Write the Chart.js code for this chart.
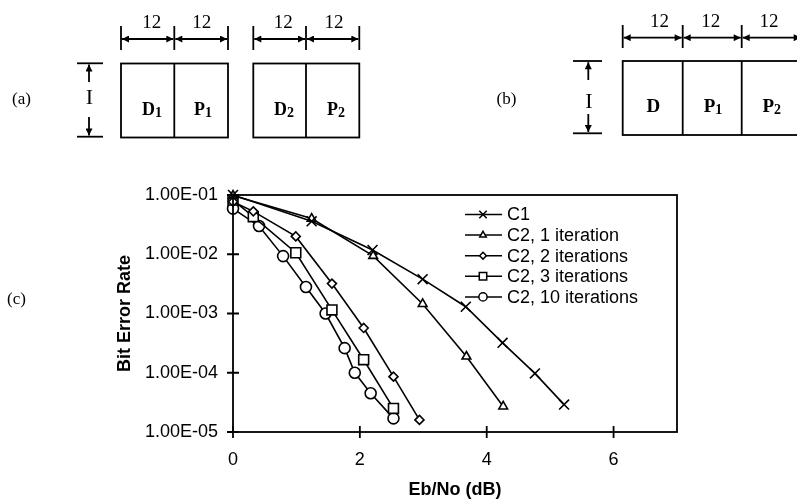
<!DOCTYPE html>
<html>
<head>
<meta charset="utf-8">
<title>Bit Error Rate</title>
<script src="https://cdn.jsdelivr.net/npm/chart.js@4.4.1/dist/chart.umd.min.js"></script>
<style>
    body { margin: 0; background: #fff; }
    #wrap { position: relative; width: 797px; height: 502px; overflow: hidden; }
    #berChart { position: absolute; left: 0; top: 0; }
    #frames { position: absolute; left: 0; top: 0; }
    #frames text { font-family: "Liberation Serif", "Times New Roman", serif; fill: #000; }
    #labelC { position: absolute; left: 7px; top: 289px; font: 17px "Liberation Serif", "Times New Roman", serif; }
</style>
</head>
<body>
<div id="wrap">
<canvas id="berChart" width="797" height="502"></canvas>

<!-- frame layouts (a) and (b) -->
<svg id="frames" width="797" height="160" viewBox="0 0 797 160">
    <defs>
        <marker id="ah" viewBox="0 0 10 10" refX="10" refY="5" markerWidth="9" markerHeight="7"
                markerUnits="userSpaceOnUse" orient="auto-start-reverse">
            <path d="M0,0 L10,5 L0,10 z" fill="#000"/>
        </marker>
    </defs>
    <g stroke="#000" stroke-width="1.8" fill="none">
        <!-- (a) dimension lines -->
        <line x1="121" y1="26" x2="121" y2="50"/>
        <line x1="174.3" y1="26" x2="174.3" y2="50"/>
        <line x1="228" y1="26" x2="228" y2="50"/>
        <line x1="122" y1="39" x2="173.3" y2="39" marker-start="url(#ah)" marker-end="url(#ah)"/>
        <line x1="175.3" y1="39" x2="227" y2="39" marker-start="url(#ah)" marker-end="url(#ah)"/>
        <line x1="253.3" y1="26" x2="253.3" y2="50"/>
        <line x1="306" y1="26" x2="306" y2="50"/>
        <line x1="359.3" y1="26" x2="359.3" y2="50"/>
        <line x1="254.3" y1="39" x2="305" y2="39" marker-start="url(#ah)" marker-end="url(#ah)"/>
        <line x1="307" y1="39" x2="358.3" y2="39" marker-start="url(#ah)" marker-end="url(#ah)"/>
        <!-- (a) height I -->
        <line x1="77" y1="63.3" x2="103" y2="63.3"/>
        <line x1="77" y1="136.7" x2="103" y2="136.7"/>
        <line x1="89" y1="82" x2="89" y2="64.5" marker-end="url(#ah)"/>
        <line x1="89" y1="117" x2="89" y2="135.5" marker-end="url(#ah)"/>
        <!-- (a) boxes -->
        <rect x="121" y="63.5" width="107" height="74"/>
        <line x1="174.3" y1="63.5" x2="174.3" y2="137.5"/>
        <rect x="253.3" y="63.5" width="106" height="74"/>
        <line x1="306" y1="63.5" x2="306" y2="137.5"/>

        <!-- (b) dimension lines -->
        <line x1="622.7" y1="25" x2="622.7" y2="48"/>
        <line x1="682.7" y1="25" x2="682.7" y2="48"/>
        <line x1="741.7" y1="25" x2="741.7" y2="48"/>
        <line x1="623.7" y1="37.7" x2="681.7" y2="37.7" marker-start="url(#ah)" marker-end="url(#ah)"/>
        <line x1="683.7" y1="37.7" x2="740.7" y2="37.7" marker-start="url(#ah)" marker-end="url(#ah)"/>
        <line x1="742.7" y1="37.7" x2="800.7" y2="37.7" marker-start="url(#ah)" marker-end="url(#ah)"/>
        <!-- (b) height I -->
        <line x1="573" y1="61" x2="602" y2="61"/>
        <line x1="573" y1="133.3" x2="602" y2="133.3"/>
        <line x1="588.3" y1="80" x2="588.3" y2="62.2" marker-end="url(#ah)"/>
        <line x1="588.3" y1="114" x2="588.3" y2="132.1" marker-end="url(#ah)"/>
        <!-- (b) box -->
        <rect x="622.7" y="61" width="179" height="74"/>
        <line x1="682.7" y1="61" x2="682.7" y2="135"/>
        <line x1="741.7" y1="61" x2="741.7" y2="135"/>
    </g>
    <g font-size="19" text-anchor="middle">
        <text x="151.7" y="28.3">12</text>
        <text x="201.7" y="28.3">12</text>
        <text x="283.3" y="28.3">12</text>
        <text x="334" y="28.3">12</text>
        <text x="659.5" y="27">12</text>
        <text x="710.8" y="27">12</text>
        <text x="769" y="27">12</text>
        <text x="21.5" y="104" font-size="17">(a)</text>
        <text x="506.5" y="104" font-size="17">(b)</text>
        <text x="89.5" y="104" font-size="22">I</text>
        <text x="588.8" y="108" font-size="22">I</text>
    </g>
    <g font-size="18" font-weight="bold" text-anchor="middle">
        <text x="152" y="115">D<tspan font-size="14" dy="2">1</tspan></text>
        <text x="203" y="115">P<tspan font-size="14" dy="2">1</tspan></text>
        <text x="284" y="115">D<tspan font-size="14" dy="2">2</tspan></text>
        <text x="336" y="115">P<tspan font-size="14" dy="2">2</tspan></text>
        <text x="653.3" y="111.5" font-size="19">D</text>
        <text x="713" y="111.5" font-size="19">P<tspan font-size="14" dy="2">1</tspan></text>
        <text x="771.7" y="111.5" font-size="19">P<tspan font-size="14" dy="2">2</tspan></text>
    </g>
</svg>
<div id="labelC">(c)</div>
</div>

<script>
var xTicks = [0, 2, 4, 6];
var yTicks = [1e-5, 1e-4, 1e-3, 1e-2, 1e-1];
var yTickLabels = ['1.00E-05', '1.00E-04', '1.00E-03', '1.00E-02', '1.00E-01'];

var c1Eb = [0, 1.24, 2.2, 2.99, 3.67, 4.25, 4.76, 5.22];
var c1Ber = [0.1, 0.036, 0.0118, 0.0038, 0.0013, 0.00032, 0.0000975, 0.000029];

var it1Eb = [0, 1.24, 2.21, 2.99, 3.68, 4.26];
var it1Ber = [0.098, 0.04, 0.0094, 0.00145, 0.000188, 0.000027];

var it2Eb = [0, 0.32, 0.99, 1.56, 2.06, 2.53, 2.94];
var it2Ber = [0.077, 0.053, 0.02, 0.0032, 0.00057, 0.000086, 0.000016];

var it3Eb = [0, 0.32, 0.99, 1.56, 2.06, 2.53];
var it3Ber = [0.082, 0.043, 0.0106, 0.00115, 0.000166, 0.000025];

var it10Eb = [0, 0.41, 0.79, 1.15, 1.46, 1.76, 1.92, 2.17, 2.53];
var it10Ber = [0.059, 0.03, 0.0093, 0.0028, 0.001, 0.00026, 0.0001, 0.000045, 0.000017];

var FONT = '"Liberation Sans", Arial, sans-serif';

function toPoints(xs, ys){
    var pts = [];
    for(var i = 0; i < xs.length; i++){
        pts.push({x: xs[i], y: ys[i]});
    }
    return pts;
}

function series(label, xs, ys, style, radius){
    return {
        label: label,
        data: toPoints(xs, ys),
        pointStyle: style,
        pointRadius: radius,
        pointHoverRadius: radius,
        pointBorderWidth: 1.6,
        pointBackgroundColor: '#fff',
        pointBorderColor: '#000',
        borderColor: '#000',
        borderWidth: 1.6,
        tension: 0,
        clip: false
    };
}

// box round the plot, ticks that cross the axes, and the legend inside the plot
var framePlugin = {
    id: 'framePlugin',
    afterDraw: function(chart){
        var ctx = chart.ctx;
        var a = chart.chartArea;
        var xs = chart.scales.x, ys = chart.scales.y;
        ctx.save();
        ctx.strokeStyle = '#000';
        ctx.lineWidth = 1.8;
        ctx.strokeRect(a.left, a.top, a.right - a.left, a.bottom - a.top);
        ctx.beginPath();
        xTicks.forEach(function(v){
            var px = xs.getPixelForValue(v);
            ctx.moveTo(px, a.bottom - 6);
            ctx.lineTo(px, a.bottom + 6);
        });
        yTicks.forEach(function(v){
            var py = ys.getPixelForValue(v);
            ctx.moveTo(a.left - 6, py);
            ctx.lineTo(a.left + 6, py);
        });
        ctx.stroke();

        ctx.font = '18px ' + FONT;
        ctx.textBaseline = 'middle';
        ctx.lineWidth = 1.5;
        chart.data.datasets.forEach(function(ds, i){
            var y = 214.5 + i * 20.6;
            ctx.strokeStyle = '#000';
            ctx.beginPath();
            ctx.moveTo(465, y);
            ctx.lineTo(502, y);
            ctx.stroke();
            ctx.fillStyle = '#fff';
            Chart.helpers.drawPoint(ctx, {
                pointStyle: ds.pointStyle,
                radius: ds.pointRadius * 0.75,
                borderWidth: 1.5,
                rotation: 0
            }, 483, y);
            ctx.fillStyle = '#000';
            ctx.fillText(ds.label, 507, y + 1);
        });
        ctx.restore();
    }
};

var ctx = document.getElementById('berChart').getContext('2d');
var chart = new Chart(ctx, {
    type: 'line',
    data: {
        datasets: [
            series('C1', c1Eb, c1Ber, 'crossRot', 7),
            series('C2, 1 iteration', it1Eb, it1Ber, 'triangle', 5),
            series('C2, 2 iterations', it2Eb, it2Ber, 'rectRot', 4.5),
            series('C2, 3 iterations', it3Eb, it3Ber, 'rect', 7),
            series('C2, 10 iterations', it10Eb, it10Ber, 'circle', 5.5)
        ]
    },
    options: {
        responsive: false,
        animation: false,
        devicePixelRatio: 1,
        layout: {padding: {top: 195, right: 120, bottom: 0, left: 0}},
        plugins: {
            legend: {display: false},
            tooltip: {enabled: false}
        },
        scales: {
            x: {
                type: 'linear',
                min: 0,
                max: 7,
                afterBuildTicks: function(s){ s.ticks = xTicks.map(function(v){ return {value: v}; }); },
                afterFit: function(s){ s.height = 70; },
                grid: {display: false, drawTicks: false},
                border: {display: false},
                ticks: {color: '#000', font: {family: FONT, size: 18}, padding: 17, maxRotation: 0},
                title: {
                    display: true,
                    text: 'Eb/No (dB)',
                    color: '#000',
                    font: {family: FONT, size: 18, weight: 'bold'},
                    padding: {top: 0, bottom: 1}
                }
            },
            y: {
                type: 'logarithmic',
                min: 1e-5,
                max: 1e-1,
                afterBuildTicks: function(s){ s.ticks = yTicks.map(function(v){ return {value: v}; }); },
                afterFit: function(s){ s.width = 233; },
                grid: {display: false, drawTicks: false},
                border: {display: false},
                ticks: {
                    color: '#000',
                    font: {family: FONT, size: 18},
                    padding: 15,
                    autoSkip: false,
                    callback: function(v, i){ return yTickLabels[i]; }
                },
                title: {
                    display: true,
                    text: 'Bit Error Rate',
                    color: '#000',
                    font: {family: FONT, size: 18, weight: 'bold'},
                    padding: {top: 114, bottom: 0}
                }
            }
        }
    },
    plugins: [framePlugin]
});
</script>
</body>
</html>
